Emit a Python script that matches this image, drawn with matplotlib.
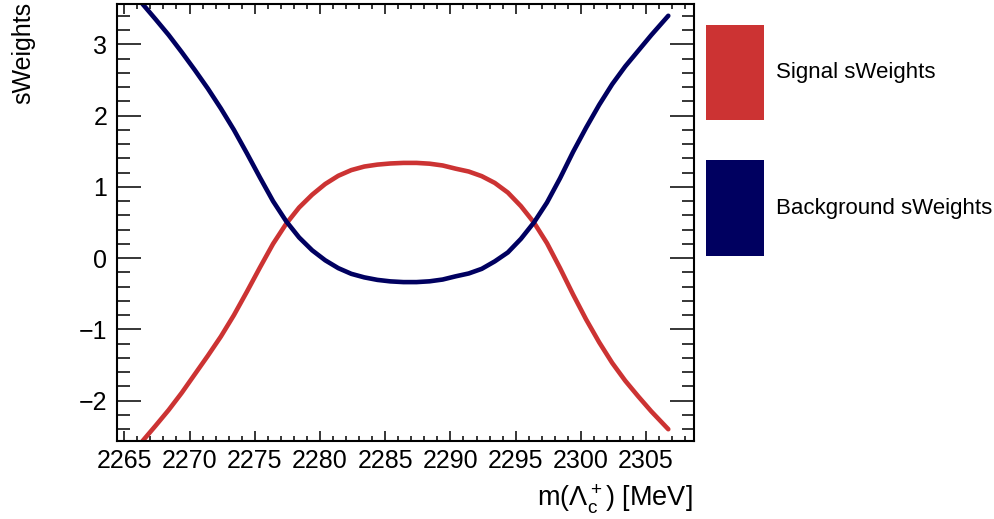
import matplotlib
matplotlib.use('Agg')
import matplotlib.pyplot as plt
from matplotlib.patches import Rectangle
from matplotlib.ticker import MultipleLocator

plt.rcParams['font.family'] = ['Liberation Sans', 'DejaVu Sans']
plt.rcParams['mathtext.fontset'] = 'custom'
plt.rcParams['mathtext.rm'] = 'Liberation Sans'
plt.rcParams['mathtext.it'] = 'Liberation Sans:italic'

# sWeights vs invariant mass
mass = [2266.4, 2267.4, 2268.4, 2269.4, 2270.4, 2271.4, 2272.4, 2273.4,
        2274.4, 2275.4, 2276.4, 2277.4, 2278.4, 2279.4, 2280.4, 2281.4,
        2282.4, 2283.4, 2284.4, 2285.4, 2286.4, 2287.4, 2288.4, 2289.4,
        2290.4, 2291.4, 2292.4, 2293.4, 2294.4, 2295.4, 2296.4, 2297.4,
        2298.4, 2299.4, 2300.4, 2301.4, 2302.4, 2303.4, 2304.4, 2305.4,
        2306.7]
sig_w = [-2.565, -2.35, -2.13, -1.89, -1.63, -1.37, -1.10, -0.80,
         -0.47, -0.13, 0.20, 0.48, 0.71, 0.89, 1.04, 1.155,
         1.235, 1.285, 1.312, 1.328, 1.336, 1.336, 1.325, 1.30,
         1.255, 1.215, 1.15, 1.055, 0.92, 0.73, 0.50, 0.21,
         -0.14, -0.51, -0.86, -1.18, -1.47, -1.72, -1.94, -2.15,
         -2.40]
bkg_w = [3.565, 3.35, 3.13, 2.89, 2.64, 2.38, 2.10, 1.80,
         1.47, 1.13, 0.80, 0.52, 0.29, 0.11, -0.03, -0.14,
         -0.22, -0.27, -0.305, -0.326, -0.336, -0.336, -0.325, -0.30,
         -0.255, -0.215, -0.15, -0.045, 0.08, 0.27, 0.50, 0.78,
         1.12, 1.49, 1.83, 2.15, 2.44, 2.69, 2.91, 3.13,
         3.40]
names = ['Signal sWeights', 'Background sWeights']
colors = ['#cc3333', '#000060']

W, H = 995, 519
fig = plt.figure(figsize=(W / 100, H / 100), dpi=100)
ax = fig.add_axes([117 / W, 1 - 441 / H, (694 - 117) / W, (441 - 4) / H])

ax.plot(mass, sig_w, color=colors[0], lw=3.3, solid_capstyle='round', solid_joinstyle='round')
ax.plot(mass, bkg_w, color=colors[1], lw=3.3, solid_capstyle='round', solid_joinstyle='round')

ax.set_xlim(2264.44, 2308.67)
ax.set_ylim(-2.565, 3.565)

ax.xaxis.set_major_locator(MultipleLocator(5))
ax.xaxis.set_minor_locator(MultipleLocator(1))
ax.yaxis.set_major_locator(MultipleLocator(1))
ax.yaxis.set_minor_locator(MultipleLocator(0.2))
ax.tick_params(axis='both', which='both', direction='in', top=True, right=True,
               width=1.1, labelsize=18)
ax.tick_params(axis='x', which='major', length=7, pad=6)
ax.tick_params(axis='x', which='minor', length=3.6)
ax.tick_params(axis='y', which='major', length=17, pad=7)
ax.tick_params(axis='y', which='minor', length=9)
for s in ax.spines.values():
    s.set_linewidth(1.5)

fig.text(693 / W, 1 - 506 / H, r'm($\mathrm{\Lambda_c^+}$) [MeV]', ha='right', va='baseline', fontsize=19.5)
fig.text(23 / W, 1 - 2 / H, 'sWeights', rotation=90, ha='center', va='top', fontsize=18)

# legend boxes
box_y = [(24.7, 120.3), (160.3, 256.0)]
for name, c, (y0, y1) in zip(names, colors, box_y):
    fig.add_artist(Rectangle((705.7 / W, 1 - y1 / H), (764 - 705.7) / W, (y1 - y0) / H,
                             transform=fig.transFigure, color=c, lw=0))
    fig.text(776 / W, 1 - (y0 + y1) / 2 / H, name, ha='left', va='center', fontsize=16)

fig.savefig('out.png', dpi=100)
